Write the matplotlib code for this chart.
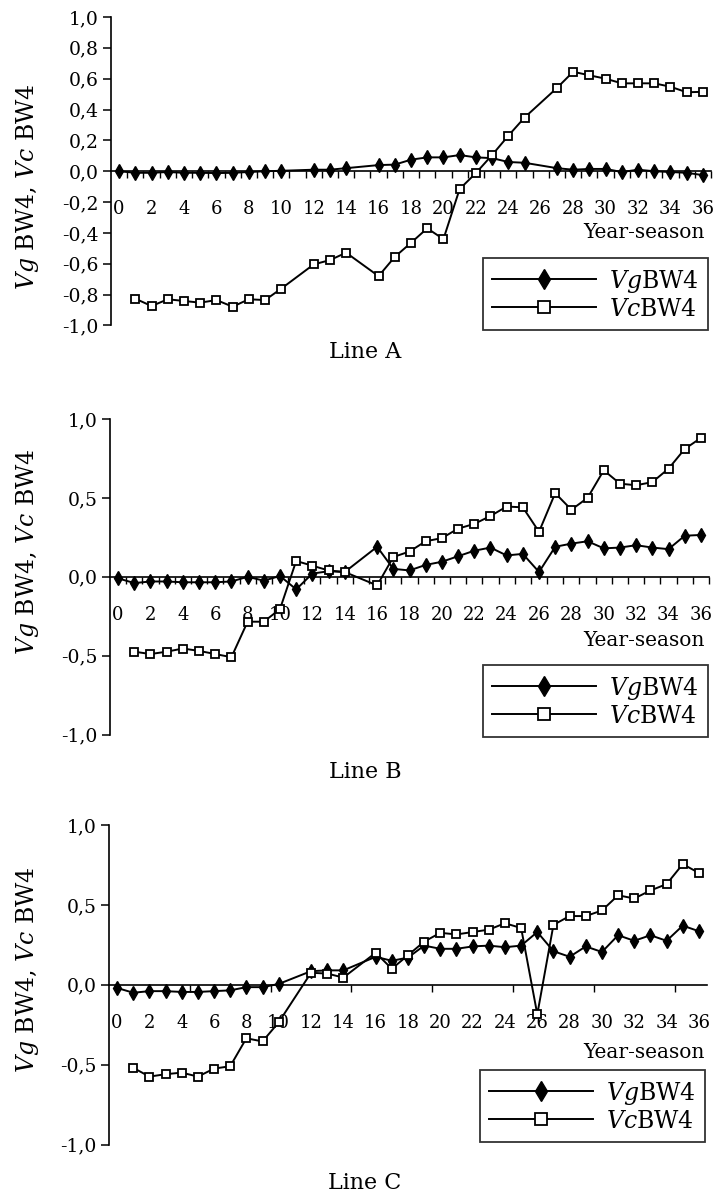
import matplotlib
matplotlib.use("Agg")
import matplotlib.pyplot as plt
from matplotlib.ticker import FixedLocator, FuncFormatter

plt.rcParams['font.family'] = ['DejaVu Serif']
plt.rcParams['mathtext.fontset'] = 'dejavuserif'

# ---------------- data ----------------
# Line A
xa_vg = [0, 1, 2, 3, 4, 5, 6, 7, 8, 9, 10, 12, 13, 14, 16, 17, 18, 19, 20, 21, 22, 23, 24, 25,
         27, 28, 29, 30, 31, 32, 33, 34, 35, 36]
vg_a = [0.0, -0.01, -0.01, -0.005, -0.01, -0.01, -0.012, -0.01, -0.005, 0.0, 0.003, 0.01, 0.01, 0.02,
        0.04, 0.043, 0.075, 0.09, 0.09, 0.105, 0.09, 0.085, 0.06, 0.055,
        0.02, 0.01, 0.015, 0.015, -0.005, 0.01, 0.0, -0.005, -0.01, -0.025]
xa_vc = [1, 2, 3, 4, 5, 6, 7, 8, 9, 10, 12, 13, 14, 16, 17, 18, 19, 20, 21, 22, 23, 24, 25,
         27, 28, 29, 30, 31, 32, 33, 34, 35, 36]
vc_a = [-0.826, -0.874, -0.83, -0.841, -0.852, -0.835, -0.878, -0.83, -0.835, -0.761, -0.604, -0.576,
        -0.528, -0.68, -0.555, -0.464, -0.37, -0.44, -0.115, -0.012, 0.105, 0.23, 0.348,
        0.54, 0.645, 0.622, 0.6, 0.57, 0.57, 0.57, 0.548, 0.512, 0.515]

# Line B
xb_vg = [0, 1, 2, 3, 4, 5, 6, 7, 8, 9, 10, 11, 12, 13, 14, 16, 17, 18, 19, 20, 21, 22, 23, 24,
         25, 26, 27, 28, 29, 30, 31, 32, 33, 34, 35, 36]
vg_b = [-0.01, -0.04, -0.03, -0.03, -0.035, -0.035, -0.035, -0.03, 0.0, -0.025, 0.005, -0.08, 0.02,
        0.035, 0.03, 0.19, 0.05, 0.04, 0.075, 0.095, 0.13, 0.165, 0.185, 0.135,
        0.145, 0.03, 0.19, 0.21, 0.225, 0.18, 0.185, 0.2, 0.185, 0.175, 0.26, 0.265]
xb_vc = [1, 2, 3, 4, 5, 6, 7, 8, 9, 10, 11, 12, 13, 14, 16, 17, 18, 19, 20, 21, 22, 23, 24,
         25, 26, 27, 28, 29, 30, 31, 32, 33, 34, 35, 36]
vc_b = [-0.475, -0.49, -0.475, -0.455, -0.47, -0.49, -0.51, -0.285, -0.285, -0.205, 0.1, 0.07, 0.04,
        0.03, -0.055, 0.125, 0.16, 0.225, 0.245, 0.305, 0.335, 0.385, 0.445,
        0.44, 0.285, 0.53, 0.425, 0.5, 0.675, 0.59, 0.58, 0.6, 0.685, 0.81, 0.88]

# Line C
xc_vg = [0, 1, 2, 3, 4, 5, 6, 7, 8, 9, 10, 12, 13, 14, 16, 17, 18, 19, 20, 21, 22, 23, 24, 25,
         26, 27, 28, 29, 30, 31, 32, 33, 34, 35, 36]
vg_c = [-0.02, -0.05, -0.04, -0.04, -0.045, -0.045, -0.04, -0.035, -0.015, -0.015, 0.005, 0.085, 0.09,
        0.09, 0.175, 0.15, 0.17, 0.245, 0.225, 0.225, 0.24, 0.245, 0.235, 0.245,
        0.33, 0.21, 0.175, 0.24, 0.205, 0.31, 0.275, 0.31, 0.275, 0.37, 0.335]
xc_vc = [1, 2, 3, 4, 5, 6, 7, 8, 9, 10, 12, 13, 14, 16, 17, 18, 19, 20, 21, 22, 23, 24, 25,
         26, 27, 28, 29, 30, 31, 32, 33, 34, 35, 36]
vc_c = [-0.52, -0.575, -0.56, -0.55, -0.575, -0.525, -0.51, -0.335, -0.355, -0.235, 0.075, 0.07, 0.045,
        0.2, 0.1, 0.185, 0.27, 0.325, 0.315, 0.33, 0.345, 0.385, 0.355,
        -0.185, 0.375, 0.43, 0.43, 0.465, 0.56, 0.54, 0.59, 0.63, 0.755, 0.7]

x_labels = list(range(0, 37, 2))
titles = ["Line A", "Line B", "Line C"]
ylabel = r"$Vg$ BW4, $Vc$ BW4"
leg_labels = [r"$Vg$BW4", r"$Vc$BW4"]
xlabel = "Year-season"

# ---------------- layout (pixels) ----------------
W, H = 718, 1195
fig = plt.figure(figsize=(W / 100, H / 100), dpi=100)


def px_axes(left, top, right, bottom):
    return fig.add_axes([left / W, 1 - bottom / H, (right - left) / W, (bottom - top) / H])


def comma(v, pos):
    return ("%.1f" % v).replace(".", ",")


panels = [
    dict(box=(111, 17, 711, 325.5), xvg=xa_vg, vg=vg_a, xvc=xa_vc, vc=vc_a,
         yt=[-1, -0.8, -0.6, -0.4, -0.2, 0, 0.2, 0.4, 0.6, 0.8, 1.0],
         minor=[i + 0.5 for i in range(0, 37)],
         ylab_y=187, title_y=352, xlab_y=232, leg=(708, 330)),
    dict(box=(110, 419, 709, 734.5), xvg=xb_vg, vg=vg_b, xvc=xb_vc, vc=vc_b,
         yt=[-1, -0.5, 0, 0.5, 1.0],
         minor=[i + 0.5 for i in range(0, 37)],
         ylab_y=552, title_y=772, xlab_y=640, leg=(708, 737)),
    dict(box=(109, 825, 707, 1144.5), xvg=xc_vg, vg=vg_c, xvc=xc_vc, vc=vc_c,
         yt=[-1, -0.5, 0, 0.5, 1.0],
         minor=[4.5, 9.5, 14.5, 19.5, 24.5, 29.5, 34.5],
         ylab_y=970, title_y=1183, xlab_y=1052, leg=(705, 1142)),
]

for i, p in enumerate(panels):
    ax = px_axes(*p["box"])
    ax.plot(p["xvg"], p["vg"], color="black", lw=1.4, marker="d", ms=7,
            mfc="black", mec="black", label=leg_labels[0], zorder=3)
    ax.plot(p["xvc"], p["vc"], color="black", lw=1.4, marker="s", ms=6,
            mfc="white", mec="black", mew=1.3, label=leg_labels[1], zorder=4)

    ax.set_xlim(-0.5, 36.5)
    ax.set_ylim(-1, 1)
    for s in ("top", "right"):
        ax.spines[s].set_visible(False)
    ax.spines["bottom"].set_position(("data", 0))
    ax.spines["bottom"].set_linewidth(1.2)
    ax.spines["left"].set_linewidth(1.2)

    ax.xaxis.set_major_locator(FixedLocator(x_labels))
    ax.xaxis.set_minor_locator(FixedLocator(p["minor"]))
    ax.tick_params(axis="x", which="major", length=0, pad=21, labelsize=13)
    ax.tick_params(axis="x", which="minor", length=5, width=1, direction="out")
    ax.yaxis.set_major_locator(FixedLocator(p["yt"]))
    ax.yaxis.set_major_formatter(FuncFormatter(comma))
    ax.tick_params(axis="y", which="major", length=6, width=1.1, pad=3, labelsize=13.5)

    fig.text(28 / W, 1 - p["ylab_y"] / H, ylabel, rotation=90, ha="center", va="center",
             fontsize=17)
    fig.text(705 / W, 1 - p["xlab_y"] / H, xlabel, ha="right", va="center", fontsize=14.5)
    fig.text(365 / W, 1 - p["title_y"] / H, titles[i], ha="center", va="center", fontsize=16)

    # legend box anchored at its lower-right corner (figure pixels)
    leg = ax.legend(loc="lower right", bbox_to_anchor=(p["leg"][0] / W, 1 - p["leg"][1] / H),
                    bbox_transform=fig.transFigure, borderaxespad=0, fontsize=17,
                    handlelength=4.4, handletextpad=0.55, markerscale=1.5,
                    frameon=True, fancybox=False, edgecolor="black", labelspacing=0.12,
                    borderpad=0.4)
    leg.get_frame().set_linewidth(1.3)

fig.savefig("out.png", dpi=100)
